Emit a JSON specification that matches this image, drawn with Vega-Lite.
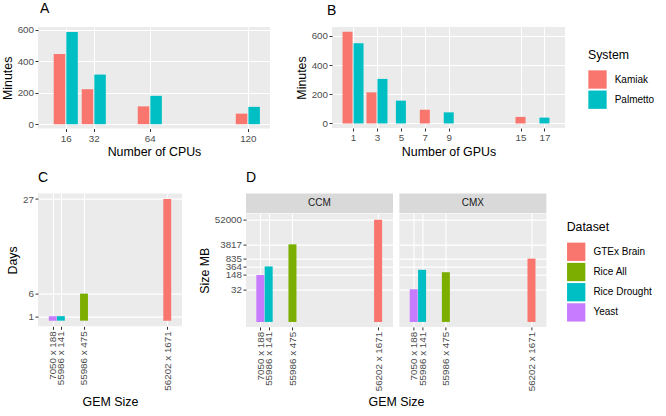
{
  "$schema": "https://vega.github.io/schema/vega-lite/v6.json",
  "background": "#ffffff",
  "padding": {"left": 1, "top": 1, "right": 5, "bottom": 5},
  "datasets": {
    "cpu": [
      {"CPUs": 16, "System": "Kamiak", "Minutes": 446},
      {"CPUs": 16, "System": "Palmetto", "Minutes": 585},
      {"CPUs": 32, "System": "Kamiak", "Minutes": 222},
      {"CPUs": 32, "System": "Palmetto", "Minutes": 315},
      {"CPUs": 64, "System": "Kamiak", "Minutes": 113},
      {"CPUs": 64, "System": "Palmetto", "Minutes": 180},
      {"CPUs": 120, "System": "Kamiak", "Minutes": 67},
      {"CPUs": 120, "System": "Palmetto", "Minutes": 110}
    ],
    "gpu": [
      {"GPUs": 1, "System": "Kamiak", "Minutes": 628},
      {"GPUs": 1, "System": "Palmetto", "Minutes": 549},
      {"GPUs": 3, "System": "Kamiak", "Minutes": 213},
      {"GPUs": 3, "System": "Palmetto", "Minutes": 305},
      {"GPUs": 5, "System": "Palmetto", "Minutes": 156},
      {"GPUs": 7, "System": "Kamiak", "Minutes": 94},
      {"GPUs": 9, "System": "Palmetto", "Minutes": 76},
      {"GPUs": 15, "System": "Kamiak", "Minutes": 45},
      {"GPUs": 17, "System": "Palmetto", "Minutes": 40}
    ],
    "days": [
      {"Dataset": "Yeast", "GEM": "7050 x 188", "cells": 1325400, "Days": 1},
      {"Dataset": "Rice Drought", "GEM": "55986 x 141", "cells": 7894026, "Days": 1},
      {"Dataset": "Rice All", "GEM": "55986 x 475", "cells": 26593350, "Days": 6},
      {"Dataset": "GTEx Brain", "GEM": "56202 x 1671", "cells": 93913542, "Days": 27}
    ],
    "size": [
      {"Machine": "CCM", "Dataset": "Yeast", "GEM": "7050 x 188", "cells": 1325400, "SizeMB": 148},
      {"Machine": "CCM", "Dataset": "Rice Drought", "GEM": "55986 x 141", "cells": 7894026, "SizeMB": 364},
      {"Machine": "CCM", "Dataset": "Rice All", "GEM": "55986 x 475", "cells": 26593350, "SizeMB": 3817},
      {"Machine": "CCM", "Dataset": "GTEx Brain", "GEM": "56202 x 1671", "cells": 93913542, "SizeMB": 52000},
      {"Machine": "CMX", "Dataset": "Yeast", "GEM": "7050 x 188", "cells": 1325400, "SizeMB": 32},
      {"Machine": "CMX", "Dataset": "Rice Drought", "GEM": "55986 x 141", "cells": 7894026, "SizeMB": 255},
      {"Machine": "CMX", "Dataset": "Rice All", "GEM": "55986 x 475", "cells": 26593350, "SizeMB": 197},
      {"Machine": "CMX", "Dataset": "GTEx Brain", "GEM": "56202 x 1671", "cells": 93913542, "SizeMB": 835}
    ],
    "panels": [{"Machine": "CCM"}, {"Machine": "CMX"}]
  },
  "spacing": 166.6,
  "bounds": "flush",
  "resolve": {"scale": {"color": "independent"}, "legend": {"color": "independent"}},
  "vconcat": [
    {
      "spacing": 25,
      "resolve": {"scale": {"color": "independent"}, "legend": {"color": "independent"}},
      "hconcat": [
        {
          "width": 232,
          "height": 101.6,
          "title": {"text": "A", "dx": 2},
          "data": {"name": "cpu"},
          "encoding": {
            "x": {"field": "CPUs", "type": "quantitative", "scale": {"domain": [3, 129.8], "nice": false, "zero": false}, "axis": {"values": [16, 32, 64, 120], "title": "Number of CPUs"}},
            "y": {"field": "Minutes", "type": "quantitative", "scale": {"domain": [-28, 617], "nice": false}, "axis": {"values": [0, 200, 400, 600], "title": "Minutes"}},
            "color": {"field": "System", "type": "nominal", "scale": {"domain": ["Kamiak", "Palmetto"], "range": ["#F8766D", "#00BFC4"]}, "legend": null}
          },
          "layer": [
            {"transform": [{"filter": "datum.System == 'Kamiak'"}], "mark": {"type": "bar", "orient": "vertical", "width": 11.5, "xOffset": -6.3}},
            {"transform": [{"filter": "datum.System == 'Palmetto'"}], "mark": {"type": "bar", "orient": "vertical", "width": 11.5, "xOffset": 6.3}}
          ]
        },
        {
          "width": 233,
          "height": 101,
          "title": {"text": "B", "dx": -5},
          "data": {"name": "gpu"},
          "encoding": {
            "x": {"field": "GPUs", "type": "quantitative", "scale": {"domain": [-0.34, 18.3], "nice": false, "zero": false}, "axis": {"values": [1, 3, 5, 7, 9, 15, 17], "title": "Number of GPUs"}},
            "y": {"field": "Minutes", "type": "quantitative", "scale": {"domain": [-31, 660], "nice": false}, "axis": {"values": [0, 200, 400, 600], "title": "Minutes"}},
            "color": {"field": "System", "type": "nominal", "scale": {"domain": ["Kamiak", "Palmetto"], "range": ["#F8766D", "#00BFC4"]}, "legend": {"title": "System", "orient": "none", "legendX": 256, "legendY": 21.7}}
          },
          "layer": [
            {"transform": [{"filter": "datum.GPUs <= 3 && datum.System == 'Kamiak'"}], "mark": {"type": "bar", "orient": "vertical", "width": 10, "xOffset": -5.5}},
            {"transform": [{"filter": "datum.GPUs <= 3 && datum.System == 'Palmetto'"}], "mark": {"type": "bar", "orient": "vertical", "width": 10, "xOffset": 5.5}},
            {"transform": [{"filter": "datum.GPUs > 3"}], "mark": {"type": "bar", "orient": "vertical", "width": 10}}
          ]
        }
      ]
    },
    {
      "spacing": 16,
      "resolve": {"scale": {"color": "independent"}, "legend": {"color": "independent"}},
      "hconcat": [
        {
          "width": 144,
          "height": 132.7,
          "title": {"text": "C"},
          "data": {"name": "days"},
          "mark": {"type": "bar", "orient": "vertical", "width": 7.9},
          "encoding": {
            "x": {"field": "cells", "type": "quantitative", "scale": {"domain": [-6555000, 101795000], "nice": false, "zero": false}, "axis": {"values": [1325400, 7894026, 26593350, 93913542], "labelExpr": "datum.value == 1325400 ? '7050 x 188' : datum.value == 7894026 ? '55986 x 141' : datum.value == 26593350 ? '55986 x 475' : '56202 x 1671'", "labelAngle": -90, "labelOverlap": false, "title": "GEM Size", "titlePadding": 5}},
            "y": {"field": "Days", "type": "quantitative", "scale": {"domain": [-1.25, 28.2], "nice": false}, "axis": {"values": [1, 6, 27], "title": "Days"}},
            "color": {"field": "Dataset", "type": "nominal", "scale": {"domain": ["GTEx Brain", "Rice All", "Rice Drought", "Yeast"], "range": ["#F8766D", "#7CAE00", "#00BFC4", "#C77CFF"]}, "legend": null}
          }
        },
        {
          "spacing": 6.4,
          "title": {"text": "GEM Size", "orient": "bottom", "anchor": "middle", "dx": 150.4, "fontSize": 12.4, "baseline": "top", "offset": 5},
          "resolve": {"scale": {"color": "independent"}, "legend": {"color": "independent"}},
          "hconcat": [
            {
              "spacing": 0,
              "vconcat": [
                {
                  "width": 147,
                  "height": 19.4,
                  "title": {"text": "D"},
                  "view": {"fill": "#d9d9d9", "stroke": null},
                  "data": {"name": "panels"},
                  "transform": [{"filter": "datum.Machine == 'CCM'"}],
                  "mark": {"type": "text", "fontSize": 10, "color": "#1a1a1a"},
                  "encoding": {"text": {"field": "Machine"}}
                },
                {
                  "width": 147,
                  "height": 113.3,
                  "data": {"name": "size"},
                  "transform": [{"filter": "datum.Machine == 'CCM'"}],
                  "mark": {"type": "bar", "orient": "vertical", "width": 8},
                  "encoding": {
                    "x": {"field": "cells", "type": "quantitative", "scale": {"domain": [-6000000, 101700000], "nice": false, "zero": false}, "axis": {"values": [1325400, 7894026, 26593350, 93913542], "labelExpr": "datum.value == 1325400 ? '7050 x 188' : datum.value == 7894026 ? '55986 x 141' : datum.value == 26593350 ? '55986 x 475' : '56202 x 1671'", "labelAngle": -90, "labelOverlap": false, "title": null}},
                    "y": {"field": "SizeMB", "type": "quantitative", "scale": {"type": "log", "domain": [0.59, 100000], "nice": false}, "axis": {"values": [32, 148, 364, 835, 3817, 52000], "labelExpr": "format(datum.value, 'd')", "labelOverlap": false, "title": "Size MB"}},
                    "y2": {"datum": 1},
                    "color": {"field": "Dataset", "type": "nominal", "scale": {"domain": ["GTEx Brain", "Rice All", "Rice Drought", "Yeast"], "range": ["#F8766D", "#7CAE00", "#00BFC4", "#C77CFF"]}, "legend": null}
                  }
                }
              ]
            },
            {
              "spacing": 0,
              "vconcat": [
                {
                  "width": 147,
                  "height": 19.4,
                  "view": {"fill": "#d9d9d9", "stroke": null},
                  "data": {"name": "panels"},
                  "transform": [{"filter": "datum.Machine == 'CMX'"}],
                  "mark": {"type": "text", "fontSize": 10, "color": "#1a1a1a"},
                  "encoding": {"text": {"field": "Machine"}}
                },
                {
                  "width": 147,
                  "height": 113.3,
                  "data": {"name": "size"},
                  "transform": [{"filter": "datum.Machine == 'CMX'"}],
                  "mark": {"type": "bar", "orient": "vertical", "width": 8},
                  "encoding": {
                    "x": {"field": "cells", "type": "quantitative", "scale": {"domain": [-6000000, 101700000], "nice": false, "zero": false}, "axis": {"values": [1325400, 7894026, 26593350, 93913542], "labelExpr": "datum.value == 1325400 ? '7050 x 188' : datum.value == 7894026 ? '55986 x 141' : datum.value == 26593350 ? '55986 x 475' : '56202 x 1671'", "labelAngle": -90, "labelOverlap": false, "title": null}},
                    "y": {"field": "SizeMB", "type": "quantitative", "scale": {"type": "log", "domain": [0.59, 100000], "nice": false}, "axis": {"values": [32, 148, 364, 835, 3817, 52000], "labels": false, "ticks": false, "title": null}},
                    "y2": {"datum": 1},
                    "color": {"field": "Dataset", "type": "nominal", "scale": {"domain": ["GTEx Brain", "Rice All", "Rice Drought", "Yeast"], "range": ["#F8766D", "#7CAE00", "#00BFC4", "#C77CFF"]}, "legend": {"title": "Dataset", "orient": "none", "legendX": 167.3, "legendY": 27.4}}
                  }
                }
              ]
            }
          ]
        }
      ]
    }
  ],
  "config": {
    "font": "Liberation Sans",
    "view": {"fill": "#ebebeb", "stroke": null},
    "axis": {
      "domain": false,
      "grid": true,
      "gridColor": "#ffffff",
      "gridWidth": 1.1,
      "tickColor": "#333333",
      "tickSize": 3,
      "tickWidth": 1,
      "labelColor": "#4d4d4d",
      "labelFontSize": 9.8,
      "labelPadding": 1.5,
      "titleFontSize": 12.4,
      "titleFontWeight": "normal",
      "titleColor": "#000000",
      "titlePadding": 3
    },
    "axisX": {"labelFlush": false},
    "legend": {
      "titleFontSize": 12.3,
      "titleFontWeight": "normal",
      "titleColor": "#000000",
      "labelFontSize": 10,
      "labelColor": "#000000",
      "symbolType": "square",
      "symbolSize": 335,
      "symbolStrokeWidth": 0,
      "symbolOpacity": 1,
      "rowPadding": 1.2,
      "labelOffset": 7.7,
      "titlePadding": 9,
      "padding": 0
    },
    "title": {"fontSize": 14, "fontWeight": "normal", "anchor": "start", "frame": "group", "baseline": "alphabetic", "offset": 8.7, "color": "#000000"}
  }
}
